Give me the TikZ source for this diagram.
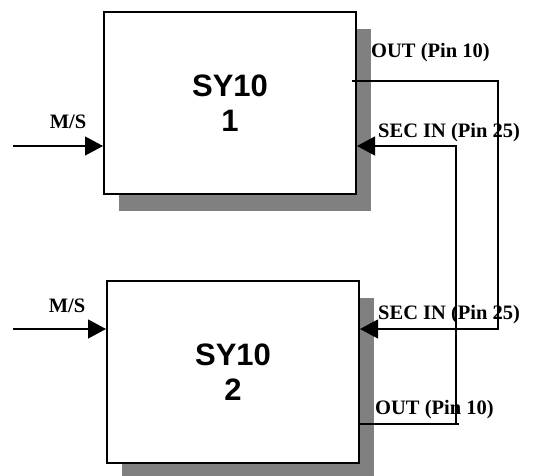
\documentclass[tikz,border=0pt]{standalone}
\usepackage{fontspec}
\setmainfont{Liberation Serif}
\setsansfont{Liberation Sans}
\usetikzlibrary{arrows.meta,shadows}

\begin{document}
\begin{tikzpicture}[x=1pt,y=-1pt,
	unit/.style={draw,line width=2pt,fill=white,minimum width=252pt,minimum height=182pt,
		inner sep=0pt,align=center,font=\sffamily\bfseries\fontsize{31}{35}\selectfont,
		drop shadow={shadow xshift=15pt,shadow yshift=-17pt,fill=gray,opacity=1}},
	pinlabel/.style={font=\bfseries\fontsize{20.5}{24}\selectfont,inner sep=0pt},
	sig/.style={line width=1.2pt},
	feed/.style={sig,-{Triangle[length=18pt,width=19pt]}}]
	\useasboundingbox (0,0) rectangle (538,476);

	% the two units
	\node[unit] (sy1) at (230,103) {SY10\\1};
	\node[unit] (sy2) at (233,372) {SY10\\2};

	% free ends and corners of the wiring
	\coordinate (ms1) at (13,146);
	\coordinate (ms2) at (13,329);
	\coordinate (out1) at (352,81);
	\coordinate (out2) at (358,424);
	\coordinate (c1) at (498,81);
	\coordinate (c2) at (498,329);
	\coordinate (c3) at (456,424);
	\coordinate (c4) at (456,146);

	% master/slave inputs
	\draw[feed] (ms1) -- (ms1 -| sy1.west);
	\draw[feed] (ms2) -- (ms2 -| sy2.west);

	% cross wiring
	\draw[feed] (out1) -- (c1) -- (c2) -- (c2 -| sy2.east);
	\draw[feed] (out2) -- (459,424) (c3) -- (c4) -- (c4 -| sy1.east);

	% labels
	\node[pinlabel] (lms1) at (68,122) {M/S};
	\node[pinlabel] (lms2) at (67,306) {M/S};
	\node[pinlabel,anchor=west] (lout1) at (371,53) {OUT (Pin 10)};
	\node[pinlabel,anchor=west] (lsec1) at (378,133) {SEC IN (Pin 25)};
	\node[pinlabel,anchor=west] (lsec2) at (378,315) {SEC IN (Pin 25)};
	\node[pinlabel,anchor=west] (lout2) at (375,410) {OUT (Pin 10)};
\end{tikzpicture}
\end{document}
